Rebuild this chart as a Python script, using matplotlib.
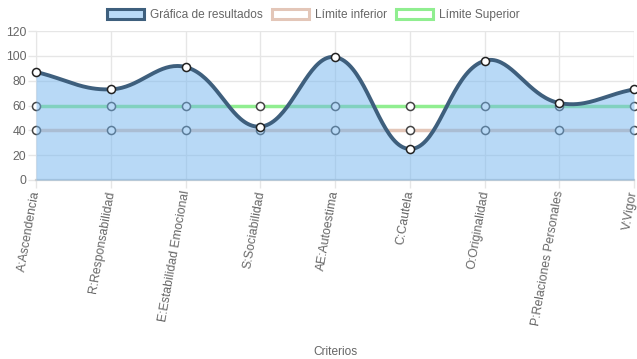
import numpy as np
import matplotlib
matplotlib.use("Agg")
import matplotlib.pyplot as plt
from matplotlib.patches import Patch
from matplotlib.transforms import ScaledTranslation

plt.rcParams['font.family'] = ['Liberation Sans', 'DejaVu Sans']

criterios = ["A:Ascendencia", "R:Responsabilidad", "E:Estabilidad Emocional",
             "S:Sociabilidad", "AE:Autoestima", "C:Cautela", "O:Originalidad",
             "P:Relaciones Personales", "V:Vigor"]
resultados = [87, 73, 91, 43, 99, 25, 96, 62, 73]
limite_inferior = [40, 40, 40, 40, 40, 40, 40, 40, 40]
limite_superior = [60, 60, 60, 60, 60, 60, 60, 60, 60]
y_ticks = [0, 20, 40, 60, 80, 100, 120]

TXT = '#666666'
GRID = '#e6e6e6'


def spline(xs, ys, sx, sy, t=0.4, n=40):
    # chart.js style bezier (tension 0.4), distances measured in pixel units
    px = np.asarray(xs, float) * sx
    py = np.asarray(ys, float) * sy
    m = len(px)
    cin = []
    cout = []
    for i in range(m):
        p0 = (px[max(i - 1, 0)], py[max(i - 1, 0)])
        p2 = (px[min(i + 1, m - 1)], py[min(i + 1, m - 1)])
        d01 = np.hypot(px[i] - p0[0], py[i] - p0[1])
        d12 = np.hypot(p2[0] - px[i], p2[1] - py[i])
        tot = d01 + d12
        s01 = d01 / tot if tot else 0
        s12 = d12 / tot if tot else 0
        fa, fb = t * s01, t * s12
        cin.append((px[i] - fa * (p2[0] - p0[0]), py[i] - fa * (p2[1] - p0[1])))
        cout.append((px[i] + fb * (p2[0] - p0[0]), py[i] + fb * (p2[1] - p0[1])))
    outx, outy = [], []
    u = np.linspace(0, 1, n)
    for i in range(m - 1):
        P0 = np.array([px[i], py[i]])
        P1 = np.array(cout[i])
        P2 = np.array(cin[i + 1])
        P3 = np.array([px[i + 1], py[i + 1]])
        b = ((1 - u) ** 3)[:, None] * P0 + (3 * (1 - u) ** 2 * u)[:, None] * P1 \
            + (3 * (1 - u) * u ** 2)[:, None] * P2 + (u ** 3)[:, None] * P3
        outx.extend(b[:, 0])
        outy.extend(b[:, 1])
    return np.array(outx) / sx, np.array(outy) / sy


fig = plt.figure(figsize=(6.37, 3.59), dpi=100)
ax = fig.add_axes([36 / 637, 1 - 180 / 359, 598 / 637, 149 / 359])

x = np.arange(len(criterios))
sx = 598 / (len(criterios) - 1)
sy = 149 / 120

# limit lines (drawn under the result fill)
ax.plot(x, limite_inferior, color='#e3c6b8', lw=2.5, zorder=2)
ax.plot(x, limite_superior, color='#90ee90', lw=2.5, zorder=2)
for vals in (limite_inferior, limite_superior):
    ax.plot(x, vals, 'o', ms=5.8, mfc='white', mec='#444444', mew=1.1,
            zorder=3, clip_on=False)

cx, cy = spline(x, resultados, sx, sy)
ax.fill_between(cx, 0, cy, color=(115 / 255, 181 / 255, 239 / 255), alpha=0.5,
                lw=0, zorder=4)
ax.plot(cx, cy, color='#3e5f7d', lw=2.8, zorder=5, solid_capstyle='round')
ax.plot(x, resultados, 'o', ms=5.8, mfc='white', mec='#222222', mew=1.1,
        zorder=6, clip_on=False)

ax.set_xlim(0, len(criterios) - 1)
ax.set_ylim(0, 120)
ax.set_yticks(y_ticks)
ax.set_xticks(x)
ax.set_xticklabels(criterios, rotation=80, ha='right', va='top',
                   rotation_mode='anchor')
ax.tick_params(axis='both', colors=GRID, labelcolor=TXT, labelsize=8.8,
               length=6, width=1)
ax.tick_params(axis='x', pad=1)
ax.tick_params(axis='y', pad=1)
shift = ScaledTranslation(-4 / 72, 0, fig.dpi_scale_trans)
for lab in ax.get_xticklabels():
    lab.set_transform(lab.get_transform() + shift)
ax.grid(True, color=GRID, lw=1)
ax.set_axisbelow(True)
for s in ('top', 'right'):
    ax.spines[s].set_visible(False)
ax.spines['left'].set_color(GRID)
ax.spines['bottom'].set_color('#d0d0d0')
ax.spines['bottom'].set_linewidth(1.6)
ax.set_xlabel('Criterios', color=TXT, fontsize=8.6)
ax.xaxis.set_label_coords(0.5, -(346 - 180) / 149)

handles = [
    Patch(facecolor=(185 / 255, 218 / 255, 247 / 255), edgecolor='#3e5f7d', lw=2.2,
          label='Gráfica de resultados'),
    Patch(facecolor='white', edgecolor='#e3c6b8', lw=2.2, label='Límite inferior'),
    Patch(facecolor='white', edgecolor='#90ee90', lw=2.2, label='Límite Superior'),
]
fig.legend(handles=handles, loc='center', bbox_to_anchor=(313 / 637, 1 - 15 / 359),
           ncol=3, frameon=False, fontsize=8.6, labelcolor=TXT,
           handlelength=3.1, handleheight=0.95, handletextpad=0.5,
           columnspacing=0.75, borderpad=0)

fig.savefig('out.png', dpi=100)
